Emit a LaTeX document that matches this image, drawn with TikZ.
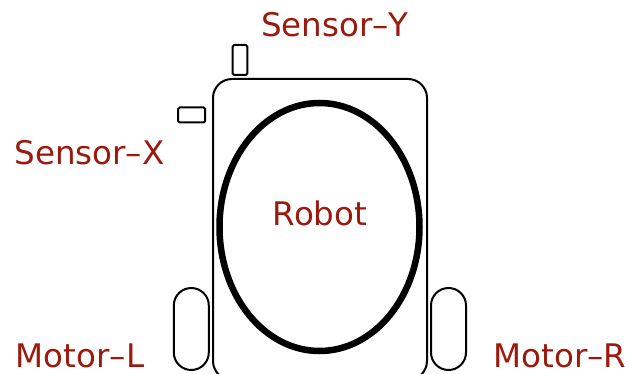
\documentclass[tikz,border=0pt]{standalone}
\usepackage{fontspec}
\setmainfont{DejaVu Sans}
\usepackage{tikz}
\usetikzlibrary{shapes.geometric,positioning}
\definecolor{LabelRed}{HTML}{9B1A0E}
\tikzset{
  % Base part
  PT/.style={rectangle,draw=black,line width=2pt,inner sep=0pt},
  % Body and wheels
  body/.style={PT,rounded corners=19pt,minimum width=214pt,minimum height=301pt},
  wheel/.style={PT,rounded corners=17.5pt,minimum width=35pt,minimum height=82pt},
  sens/.style={PT,rounded corners=1.5pt},
  core/.style={ellipse,draw=black,line width=6.5pt,inner sep=0pt,
               minimum width=200pt,minimum height=248pt},
  % Label style
  LB/.style={font=\fontsize{32.5}{36}\selectfont,text=LabelRed,anchor=base,inner sep=0pt}
}
\begin{document}
\begin{tikzpicture}[x=1pt,y=-1pt]
  \clip (0,0) rectangle (633,374);
  \node[body]  (robot) at (320,229.5) {};
  \node[core]  (brain) at (319.5,227) {};
  \node[wheel] (whl)   at (191.3,329) {};
  \node[wheel] (whr)   at (448.5,329) {};
  \node[sens,minimum width=14.6pt,minimum height=30pt] (sy) at (240,60) {};
  \node[sens,minimum width=27pt,minimum height=15pt]   (sx) at (191.7,115) {};

  \node[LB] (tRobot) at (320,226)   {Robot};
  \node[LB] (tSY)    at (335,37)    {Sensor–Y};
  \node[LB] (tSX)    at (89.5,165)  {Sensor–X};
  \node[LB] (tML)    at (80,368)    {Motor–L};
  \node[LB] (tMR)    at (560,368)   {Motor–R};
\end{tikzpicture}
\end{document}
